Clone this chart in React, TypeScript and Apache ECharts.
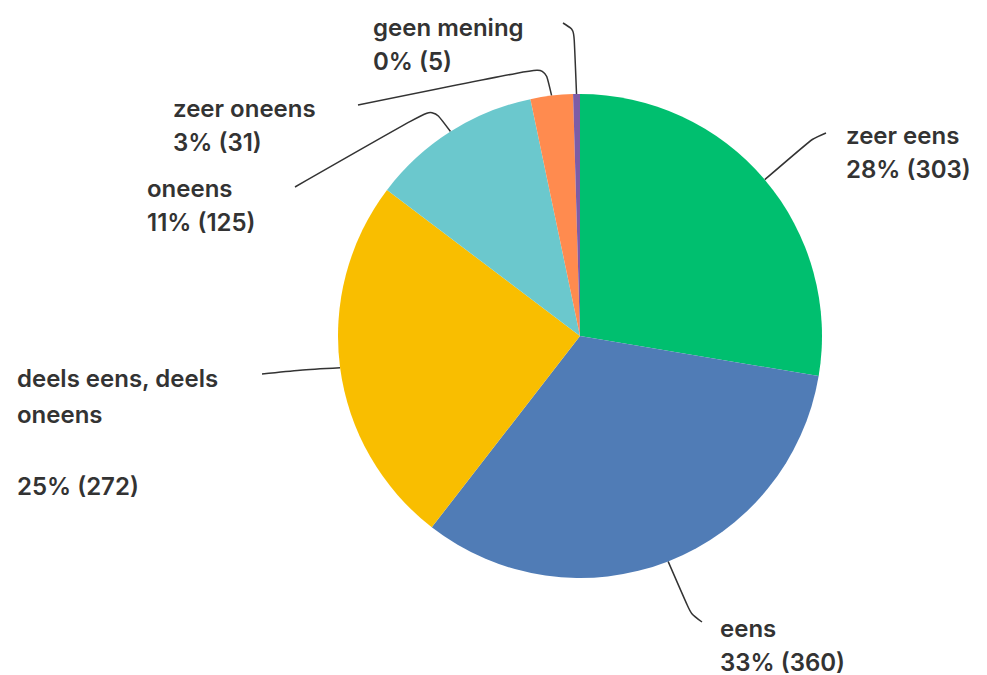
import React, { useEffect, useRef } from "react";
import * as echarts from "echarts";

const categories = ["zeer eens", "eens", "deels eens, deels\noneens\n", "oneens", "zeer oneens", "geen mening"];
const counts = [303, 360, 272, 125, 31, 5];
const percents = ["28%", "33%", "25%", "11%", "3%", "0%"];
const colors = ["#00BF6F", "#507CB6", "#F9BE00", "#6BC8CD", "#FF8B4F", "#7D5CA6"];

// label placement (text top-left) and leader line elbow/end
const labelBoxes = [
  { x: 846, y: 118, elbow: [812, 139], end: [826, 133] },
  { x: 720, y: 611, elbow: [691, 614], end: [702, 622] },
  { x: 17, y: 360, elbow: [300, 370], end: [262, 374] },
  { x: 147, y: 171, elbow: [433, 108], end: [295, 187] },
  { x: 173, y: 91, elbow: [545, 67], end: [358, 105] },
  { x: 373, y: 10, elbow: [574, 30], end: [563, 23] },
];

const CX = 580;
const CY = 336;
const R = 242;

export default function App() {
  const ref = useRef<HTMLDivElement>(null);
  useEffect(() => {
    document.body.style.margin = "0";
    const chart = echarts.init(ref.current!, null, { renderer: "svg" });
    const total = counts.reduce((a, b) => a + b, 0);
    const data = categories.map((name, i) => ({
      name,
      value: counts[i],
      itemStyle: { color: colors[i] },
      label: {
        formatter: `${name}\n${percents[i]} (${counts[i]})`,
        lineHeight: i === 2 ? 36 : 34,
      },
    }));
    chart.setOption({
      animation: false,
      backgroundColor: "#ffffff",
      series: [
        {
          type: "pie",
          center: [CX, CY],
          radius: R,
          startAngle: 90,
          clockwise: true,
          data,
          label: {
            show: true,
            position: "outside",
            color: "#333333",
            fontFamily: "Inter",
            fontWeight: 600,
            fontSize: 24,
          },
          labelLine: {
            show: true,
            smooth: 0.25,
            lineStyle: { color: "#333333", width: 1.5 },
          },
          labelLayout: (params: any) => {
            const i = params.dataIndex;
            const b = labelBoxes[i];
            // start point on the sector edge, at the slice's mid angle
            let before = 0;
            for (let k = 0; k < i; k++) before += counts[k];
            const mid = ((before + counts[i] / 2) / total) * Math.PI * 2;
            const sx = CX + R * Math.sin(mid);
            const sy = CY - R * Math.cos(mid);
            return {
              x: b.x,
              y: b.y,
              align: "left",
              verticalAlign: "top",
              labelLinePoints: [[sx, sy], b.elbow, b.end],
            };
          },
        },
      ],
    });
    return () => chart.dispose();
  }, []);
  return <div ref={ref} style={{ position: "absolute", left: 0, top: 0, width: 987, height: 675 }} />;
}
